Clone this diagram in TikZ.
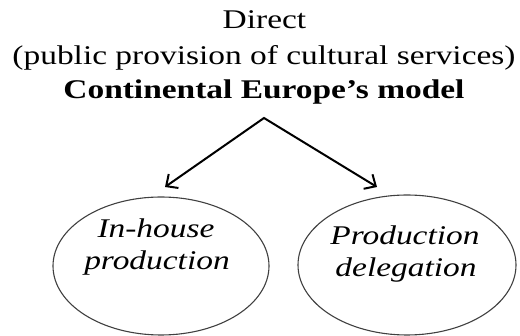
\documentclass[tikz,border=0pt]{standalone}
\usepackage{fontspec}
\setmainfont{Liberation Serif}
\usetikzlibrary{shapes.geometric,arrows.meta}
\tikzset{
  txt/.style={anchor=base,inner sep=0pt,font=\fontsize{27}{30}\selectfont},
  oval/.style={ellipse,draw=black!75,line width=1.1pt,inner sep=0pt},
  barb/.tip={Straight Barb[length=9pt,width=17pt,line width=2pt]},
  arr/.style={line width=2pt,line join=miter,barb-barb}
}
\newcommand{\sx}[1]{\scalebox{1.238}[1]{#1}}
\begin{document}
\begin{tikzpicture}[x=1pt,y=-1pt]
\useasboundingbox (0,0) rectangle (520,336);
\node[txt] (t1) at (264.5,29) {\sx{Direct}};
\node[txt] (t2) at (264,65) {\sx{(public provision of cultural services)}};
\node[txt] (t3) at (264,99) {\sx{\textbf{Continental Europe’s model}}};
\node[oval,minimum width=216pt,minimum height=138pt] (e1) at (161,266) {};
\node[oval,minimum width=218pt,minimum height=140pt] (e2) at (407,265) {};
\node[txt] (a1) at (156,238) {\sx{\itshape In-house}};
\node[txt] (a2) at (157,270) {\sx{\itshape production}};
\node[txt] (b1) at (405,245) {\sx{\itshape Production}};
\node[txt] (b2) at (406,277) {\sx{\itshape delegation}};
\coordinate (apex) at (264,118);
\coordinate (tipL) at (165,187);
\coordinate (tipR) at (377,187);
\draw[arr] (tipL) -- (apex) -- (tipR);
\end{tikzpicture}
\end{document}
